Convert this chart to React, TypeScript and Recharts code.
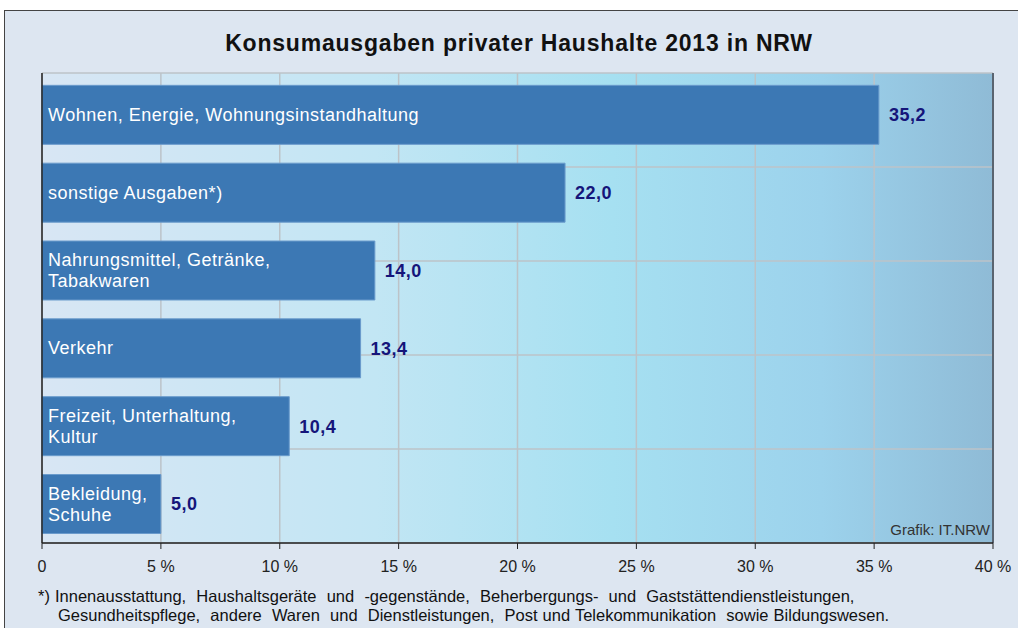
import React, { FC } from 'react';
import {
  BarChart,
  Bar,
  XAxis,
  YAxis,
  CartesianGrid,
  LabelList,
  ReferenceLine,
} from 'recharts';

const categories = [
  'Wohnen, Energie, Wohnungsinstandhaltung',
  'sonstige Ausgaben*)',
  'Nahrungsmittel, Getränke,\nTabakwaren',
  'Verkehr',
  'Freizeit, Unterhaltung,\nKultur',
  'Bekleidung,\nSchuhe',
];
const shares = [35.2, 22.0, 14.0, 13.4, 10.4, 5.0];
const xTicks = [0, 5, 10, 15, 20, 25, 30, 35, 40];
const bandTicks = [0, 1, 2, 3, 4, 5, 6];

const title = 'Konsumausgaben privater Haushalte 2013 in NRW';
const footnote = [
  '*) Innenausstattung,  Haushaltsgeräte  und  -gegenstände,  Beherbergungs-  und  Gaststättendienstleistungen,',
  'Gesundheitspflege,  andere  Waren  und  Dienstleistungen,  Post und Telekommunikation  sowie Bildungswesen.',
];
const source = 'Grafik: IT.NRW';

const data = categories.map((name, i) => ({ name, value: shares[i] }));

const font = 'Arial, "Liberation Sans", sans-serif';

const NameLabel: FC<any> = ({ x, y, height, value }) => {
  const lines = String(value).split('\n');
  const lh = 21;
  const cy = y + height / 2 - ((lines.length - 1) * lh) / 2;
  return (
    <text
      x={x + 6}
      y={cy}
      fill="#ffffff"
      fontSize={18}
      fontFamily={font}
      letterSpacing={0.5}
      dominantBaseline="central"
    >
      {lines.map((l, i) => (
        <tspan key={i} x={x + 6} dy={i === 0 ? 0 : lh}>
          {l}
        </tspan>
      ))}
    </text>
  );
};

const App: FC = () => (
  <div
    style={{
      position: 'absolute',
      left: 0,
      top: 0,
      width: 1018,
      height: 628,
      overflow: 'hidden',
      background: '#ffffff',
      fontFamily: font,
    }}
  >
    <div
      style={{
        position: 'absolute',
        left: 4,
        top: 10,
        width: 1030,
        height: 640,
        background: '#dde6f1',
        borderTop: '1px solid #444',
        borderLeft: '1px solid #444',
      }}
    />
    <div
      style={{
        position: 'absolute',
        left: 0,
        width: 1038,
        top: 30,
        textAlign: 'center',
        fontSize: 23,
        fontWeight: 'bold',
        color: '#111',
        letterSpacing: 0.8,
      }}
    >
      {title}
    </div>
    <div style={{ position: 'absolute', left: 0, top: 0 }}>
      <BarChart
        width={1018}
        height={628}
        data={data}
        layout="vertical"
        margin={{ top: 73, right: 25, bottom: 55, left: 42 }}
        barCategoryGap="12%"
      >
        <defs>
          <linearGradient id="plotBg" x1="0" y1="0" x2="1" y2="0">
            <stop offset="0%" stopColor="#d8e6f4" />
            <stop offset="35%" stopColor="#c2e6f4" />
            <stop offset="60%" stopColor="#a6e0f1" />
            <stop offset="82%" stopColor="#9cd2ec" />
            <stop offset="100%" stopColor="#8fbbd6" />
          </linearGradient>
        </defs>
        <YAxis yAxisId="band" type="number" domain={[0, 6]} ticks={bandTicks} hide />
        <CartesianGrid
          yAxisId="band"
          fill="url(#plotBg)"
          fillOpacity={1}
          stroke="#bcc3c8"
          strokeWidth={1.5}
        />
        <XAxis
          type="number"
          domain={[0, 40]}
          ticks={xTicks}
          tickFormatter={(v: number) => (v === 0 ? '0' : `${v} %`)}
          axisLine={{ stroke: '#222', strokeWidth: 1.5 }}
          tickLine={{ stroke: '#222' }}
          tickSize={6}
          tick={{ fill: '#222', fontSize: 16, fontFamily: font }}
          tickMargin={12}
          height={30}
        />
        <YAxis dataKey="name" type="category" hide padding={{ top: 3, bottom: 0 }} />
        <ReferenceLine yAxisId="band" y={6} stroke="#555" strokeWidth={2} />
        <ReferenceLine x={40} yAxisId="band" stroke="#5a6470" strokeWidth={2} />
        <ReferenceLine x={0} yAxisId="band" stroke="#222" strokeWidth={1.5} />
        <Bar dataKey="value" fill="#3c78b4" stroke="#6a9bcc" strokeWidth={1} isAnimationActive={false}>
          <LabelList dataKey="name" content={<NameLabel />} />
          <LabelList
            dataKey="value"
            position="right"
            offset={10}
            formatter={(v: any) => Number(v).toFixed(1).replace('.', ',')}
            fill="#15157a"
            fontSize={18}
            fontWeight="bold"
            fontFamily={font}
            letterSpacing={0.5}
          />
        </Bar>
      </BarChart>
    </div>
    <div
      style={{
        position: 'absolute',
        right: 28,
        top: 521,
        fontSize: 15,
        color: '#333',
      }}
    >
      {source}
    </div>
    <div
      style={{
        position: 'absolute',
        left: 38,
        top: 587,
        fontSize: 16.5,
        color: '#111',
        lineHeight: '19px',
        whiteSpace: 'pre',
        wordSpacing: 0.5,
      }}
    >
      <div>{footnote[0]}</div>
      <div style={{ paddingLeft: 20 }}>{footnote[1]}</div>
    </div>
  </div>
);

export default App;
